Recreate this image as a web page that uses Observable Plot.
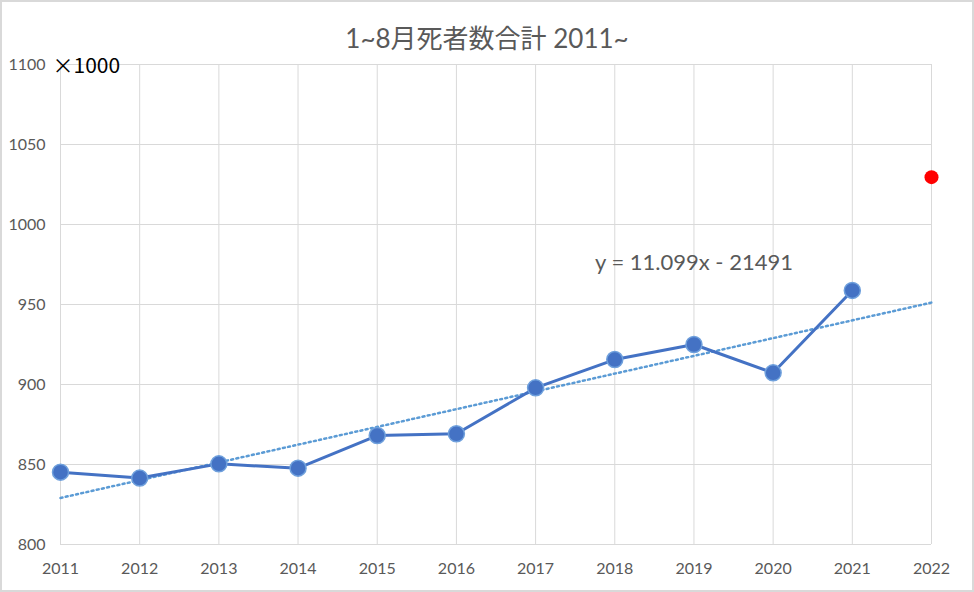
<!DOCTYPE html>
<html>
<head>
<meta charset="utf-8">
<script src="https://cdn.jsdelivr.net/npm/d3@7"></script>
<script src="https://cdn.jsdelivr.net/npm/@observablehq/plot@0.6"></script>
<style>
  html, body { margin: 0; padding: 0; background: #fff; }
  #chart {
    position: relative; width: 974px; height: 592px; box-sizing: border-box;
    border: 2px solid #d9d9d9; background: #fff; overflow: hidden;
    font-family: Lato, "Noto Sans CJK JP", sans-serif;
  }
  #title {
    height: 50px; box-sizing: border-box; padding-top: 21px; line-height: 30px;
    text-align: center; font-size: 26px; color: #595959;
    font-family: Lato, "Noto Sans CJK JP", sans-serif;
  }
  svg { overflow: visible; display: block; }
</style>
</head>
<body>
<div id="chart">
  <div id="title">1~8月死者数合計 2011~</div>
</div>
<script>
// ---- data ----
const years = [2011, 2012, 2013, 2014, 2015, 2016, 2017, 2018, 2019, 2020, 2021];
const deaths = [845.2, 841.5, 850.4, 847.7, 868.1, 869.2, 897.9, 915.6, 925.0, 907.3, 958.8];
const forecastYears = [2022];
const forecastValues = [1029.6];
const trendYears = [2011, 2022];
const trendValues = [829.1, 951.2];
const xTicks = [2011, 2012, 2013, 2014, 2015, 2016, 2017, 2018, 2019, 2020, 2021, 2022];
const yTicks = [800, 850, 900, 950, 1000, 1050, 1100];
const unitLabel = "×1000";
const equationLabel = "y = 11.099x - 21491";

const series = years.map((y, i) => ({year: y, value: deaths[i]}));
const forecast = forecastYears.map((y, i) => ({year: y, value: forecastValues[i]}));
const trend = trendYears.map((y, i) => ({year: y, value: trendValues[i]}));

const plot = Plot.plot({
  width: 970,
  height: 538,
  marginTop: 12,
  marginBottom: 46,
  marginLeft: 58,
  marginRight: 41,
  style: {fontFamily: 'Lato, "Noto Sans CJK JP", sans-serif', fontSize: "16px", color: "#595959", background: "white"},
  x: {domain: [2011, 2022], ticks: xTicks, tickFormat: d => String(d)},
  y: {domain: [800, 1100], ticks: yTicks, tickFormat: d => String(d)},
  marks: [
    Plot.gridX(xTicks, {stroke: "#d9d9d9", strokeOpacity: 1, strokeWidth: 1}),
    Plot.gridY(yTicks, {stroke: "#d9d9d9", strokeOpacity: 1, strokeWidth: 1}),
    Plot.axisX(xTicks, {tickSize: 0, tickPadding: 18, fontSize: 16, fill: "#595959", tickFormat: d => String(d), label: null}),
    Plot.axisY(yTicks, {tickSize: 0, tickPadding: 15, fontSize: 16, fill: "#595959", tickFormat: d => String(d), label: null}),
    Plot.line(trend, {x: "year", y: "value", stroke: "#5b9bd5", strokeWidth: 2.5, strokeDasharray: "2,3.3"}),
    Plot.line(series, {x: "year", y: "value", stroke: "#4472c4", strokeWidth: 3}),
    Plot.dot(series, {x: "year", y: "value", r: 8, fill: "#4472c4", stroke: "#6fa0dc", strokeWidth: 1.5}),
    Plot.dot(forecast, {x: "year", y: "value", r: 7, fill: "#ff0000", stroke: "none"}),
    Plot.text([equationLabel], {x: 2019, y: 976, text: d => d, fontSize: 22, fill: "#595959", textAnchor: "middle"}),
    Plot.text([unitLabel], {frameAnchor: "top-left", text: d => d, dx: -8, dy: 2, fontSize: 21, fill: "#000", textAnchor: "start", lineAnchor: "middle", fontFamily: '"Noto Sans CJK JP", sans-serif'})
  ]
});
document.getElementById("chart").appendChild(plot);
</script>
</body>
</html>
